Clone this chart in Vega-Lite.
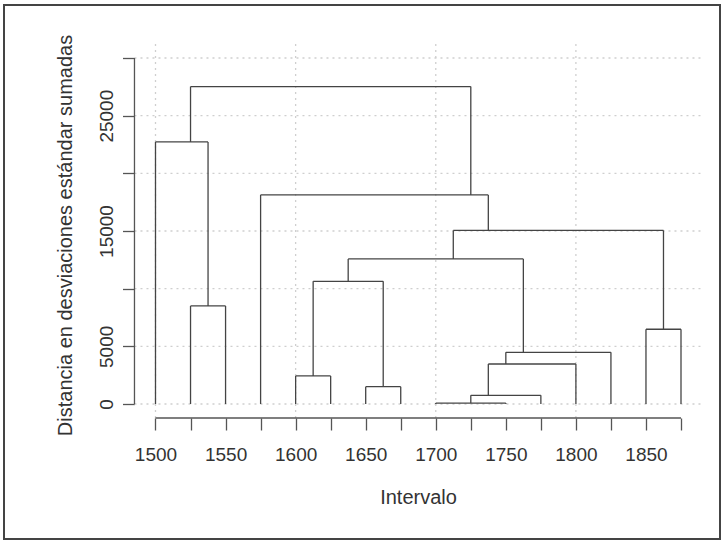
{
  "$schema": "https://vega.github.io/schema/vega-lite/v6.json",
  "width": 716,
  "height": 534,
  "autosize": {"type": "none"},
  "padding": {"left": 4, "top": 5, "right": 2, "bottom": 2},
  "background": "white",
  "config": {
    "view": {"stroke": "#444444", "strokeWidth": 2},
    "axis": {
      "labelFont": "Liberation Sans",
      "titleFont": "Liberation Sans",
      "labelFontSize": 19,
      "titleFontSize": 20,
      "titleFontWeight": "normal",
      "labelColor": "#333333",
      "titleColor": "#333333",
      "tickColor": "#555555",
      "tickWidth": 1.3,
      "domain": false,
      "grid": false,
      "labelOverlap": false,
      "labelBound": false,
      "labelFlush": false
    }
  },
  "datasets": {
    "tree": [
      {"x": 1525, "x2": 1725, "y": 27520, "y2": 27520},
      {"x": 1525, "x2": 1525, "y": 22720, "y2": 27520},
      {"x": 1725, "x2": 1725, "y": 18130, "y2": 27520},
      {"x": 1500, "x2": 1537.5, "y": 22720, "y2": 22720},
      {"x": 1500, "x2": 1500, "y": 0, "y2": 22720},
      {"x": 1537.5, "x2": 1537.5, "y": 8500, "y2": 22720},
      {"x": 1525, "x2": 1550, "y": 8500, "y2": 8500},
      {"x": 1525, "x2": 1525, "y": 0, "y2": 8500},
      {"x": 1550, "x2": 1550, "y": 0, "y2": 8500},
      {"x": 1575, "x2": 1737.5, "y": 18130, "y2": 18130},
      {"x": 1575, "x2": 1575, "y": 0, "y2": 18130},
      {"x": 1737.5, "x2": 1737.5, "y": 15050, "y2": 18130},
      {"x": 1712.5, "x2": 1862.5, "y": 15050, "y2": 15050},
      {"x": 1712.5, "x2": 1712.5, "y": 12575, "y2": 15050},
      {"x": 1862.5, "x2": 1862.5, "y": 6480, "y2": 15050},
      {"x": 1850, "x2": 1875, "y": 6480, "y2": 6480},
      {"x": 1850, "x2": 1850, "y": 0, "y2": 6480},
      {"x": 1875, "x2": 1875, "y": 0, "y2": 6480},
      {"x": 1637.5, "x2": 1762.5, "y": 12575, "y2": 12575},
      {"x": 1637.5, "x2": 1637.5, "y": 10640, "y2": 12575},
      {"x": 1762.5, "x2": 1762.5, "y": 4480, "y2": 12575},
      {"x": 1612.5, "x2": 1662.5, "y": 10640, "y2": 10640},
      {"x": 1612.5, "x2": 1612.5, "y": 2430, "y2": 10640},
      {"x": 1662.5, "x2": 1662.5, "y": 1500, "y2": 10640},
      {"x": 1600, "x2": 1625, "y": 2430, "y2": 2430},
      {"x": 1600, "x2": 1600, "y": 0, "y2": 2430},
      {"x": 1625, "x2": 1625, "y": 0, "y2": 2430},
      {"x": 1650, "x2": 1675, "y": 1500, "y2": 1500},
      {"x": 1650, "x2": 1650, "y": 0, "y2": 1500},
      {"x": 1675, "x2": 1675, "y": 0, "y2": 1500},
      {"x": 1750, "x2": 1825, "y": 4480, "y2": 4480},
      {"x": 1750, "x2": 1750, "y": 3470, "y2": 4480},
      {"x": 1825, "x2": 1825, "y": 0, "y2": 4480},
      {"x": 1737.5, "x2": 1800, "y": 3470, "y2": 3470},
      {"x": 1737.5, "x2": 1737.5, "y": 750, "y2": 3470},
      {"x": 1800, "x2": 1800, "y": 0, "y2": 3470},
      {"x": 1725, "x2": 1775, "y": 750, "y2": 750},
      {"x": 1725, "x2": 1725, "y": 80, "y2": 750},
      {"x": 1775, "x2": 1775, "y": 0, "y2": 750},
      {"x": 1700, "x2": 1750, "y": 80, "y2": 80},
      {"x": 1700, "x2": 1700, "y": 0, "y2": 80},
      {"x": 1750, "x2": 1750, "y": 0, "y2": 80}
    ],
    "grid": [
      {"x": 1485, "x2": 1890, "y": 0, "y2": 0},
      {"x": 1485, "x2": 1890, "y": 5000, "y2": 5000},
      {"x": 1485, "x2": 1890, "y": 10000, "y2": 10000},
      {"x": 1485, "x2": 1890, "y": 15000, "y2": 15000},
      {"x": 1485, "x2": 1890, "y": 20000, "y2": 20000},
      {"x": 1485, "x2": 1890, "y": 25000, "y2": 25000},
      {"x": 1485, "x2": 1890, "y": 30000, "y2": 30000},
      {"x": 1500, "x2": 1500, "y": -1214, "y2": 31301},
      {"x": 1600, "x2": 1600, "y": -1214, "y2": 31301},
      {"x": 1700, "x2": 1700, "y": -1214, "y2": 31301},
      {"x": 1800, "x2": 1800, "y": -1214, "y2": 31301}
    ],
    "axislines": [
      {"x": 1500, "x2": 1875, "y": -1214, "y2": -1214},
      {"x": 1485, "x2": 1485, "y": 0, "y2": 30000}
    ]
  },
  "encoding": {
    "x": {
      "field": "x",
      "type": "quantitative",
      "scale": {"domain": [1391.89, 1902.83], "nice": false, "zero": false},
      "axis": {
        "title": "Intervalo",
        "values": [1500, 1525, 1550, 1575, 1600, 1625, 1650, 1675, 1700, 1725, 1750, 1775, 1800, 1825, 1850, 1875],
        "format": "d",
        "labelExpr": "datum.value % 50 === 0 ? datum.label : ''",
        "offset": -121,
        "tickSize": 12,
        "labelPadding": 15,
        "titlePadding": 23,
        "titleX": 414
      }
    },
    "x2": {"field": "x2"},
    "y": {
      "field": "y",
      "type": "quantitative",
      "scale": {"domain": [-11705, 34595], "nice": false, "zero": false},
      "axis": {
        "title": "Distancia en desviaciones estándar sumadas",
        "values": [0, 5000, 10000, 15000, 20000, 25000, 30000],
        "format": "d",
        "labelExpr": "(datum.value === 0 || datum.value === 5000 || datum.value === 15000 || datum.value === 25000) ? datum.label : ''",
        "labelAngle": -90,
        "labelAlign": "center",
        "labelBaseline": "bottom",
        "offset": -130.5,
        "tickSize": 12,
        "labelPadding": 6,
        "titlePadding": 22,
        "titleY": 230
      }
    },
    "y2": {"field": "y2"}
  },
  "layer": [
    {
      "data": {"name": "grid"},
      "mark": {"type": "rule", "color": "#cfcfcf", "strokeWidth": 1.3, "strokeDash": [2, 4]}
    },
    {
      "data": {"name": "axislines"},
      "mark": {"type": "rule", "color": "#555555", "strokeWidth": 1.3}
    },
    {
      "data": {"name": "tree"},
      "mark": {"type": "rule", "color": "#444444", "strokeWidth": 1.3}
    }
  ]
}
